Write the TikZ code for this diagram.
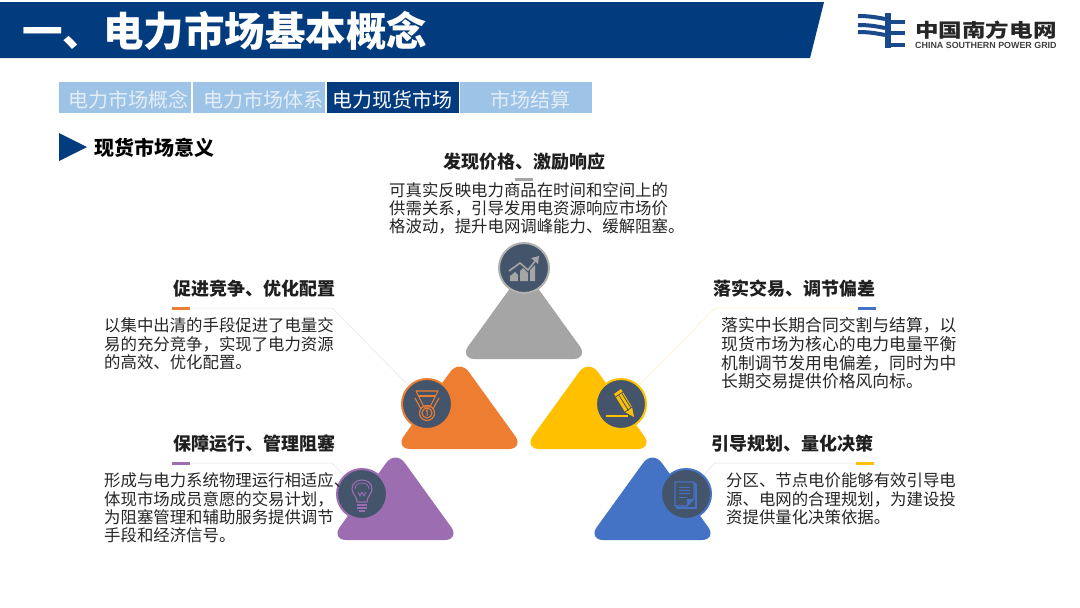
\documentclass[tikz,border=0pt]{standalone}
\usepackage{fontspec}
\usepackage{xcolor}
\setmainfont{Noto Sans CJK SC}
\newfontfamily\LogoLatinFont{Liberation Sans}
\usetikzlibrary{positioning,calc}
\definecolor{marketnavy}{HTML}{023B7E}
\definecolor{markettab}{HTML}{9DC3E6}
\definecolor{markettabtext}{HTML}{E3EEF8}
\definecolor{marketicon}{HTML}{44546A}
\definecolor{pieceGray}{HTML}{A5A5A5}
\definecolor{pieceOrange}{HTML}{ED7D31}
\definecolor{pieceYellow}{HTML}{FFC000}
\definecolor{piecePurple}{HTML}{9C6DB1}
\definecolor{pieceBlue}{HTML}{4472C4}
\definecolor{logoblue}{HTML}{1B4A8C}
\newcommand{\MarketBodyFont}{\fontsize{16.4pt}{18.4pt}\selectfont}
\newcommand{\MarketHeadFont}{\fontsize{18pt}{20pt}\selectfont\bfseries}
\newcommand{\MarketTabFont}{\fontsize{20pt}{22pt}\selectfont}
\tikzset{
  tabbox/.style={
    fill=markettab, text=markettabtext, font=\MarketTabFont,
    minimum width=132, minimum height=31, inner sep=0,
    text height=20, text depth=0
  },
  iconring/.style={
    circle, draw=#1, fill=marketicon, line width=2,
    minimum size=50, inner sep=0
  },
  accentrule/.style={
    fill=#1, minimum width=18, minimum height=3, inner sep=0
  },
  leaderline/.style={draw=#1, line width=0.5},
  headtext/.style={font=\MarketHeadFont, text=black!88, inner sep=0},
  bodytext/.style={
    font=\MarketBodyFont, text=black!85, align=left, anchor=west, inner sep=0
  },
  iconstroke/.style={draw=#1, line width=1.1, line join=round}
}
\newcommand{\MarketPiece}[3]{%
    \path[fill=#1, rounded corners=16]
        (#2,#3) -- (#2-65,#3) -- (#2,#3-90) -- (#2+65,#3) -- cycle;%
}
\newcommand{\ChartIcon}[2]{%
    \begin{scope}[shift={(#1)}]
        \fill[#2] (-14,13) -- (-14,8) -- (-9,4) -- (-6,7) -- (-6,13) -- cycle;
        \fill[#2] (-4,13) -- (-4,3) -- (-1,0) -- (4,5) -- (4,13) -- cycle;
        \fill[#2] (6,13) -- (6,2) -- (11,-3) -- (11,13) -- cycle;
        \draw[#2, line width=1.6] (-15,3) -- (-4,-5) -- (4,2) -- (12,-8);
        \fill[#2] (15,-12) -- (7,-10) -- (14,-4) -- cycle;
    \end{scope}%
}
\newcommand{\MedalIcon}[2]{%
    \begin{scope}[shift={(#1)}]
        \draw[iconstroke=#2] (-11,-13) -- (11,-13) -- (3,3) -- (-3,3) -- cycle;
        \draw[iconstroke=#2] (-8,-8) -- (8,-8);
        \draw[iconstroke=#2] (-12,-6) -- (-6,5);
        \draw[iconstroke=#2] (12,-6) -- (6,5);
        \draw[iconstroke=#2] (0,9) circle (7.5);
        \draw[iconstroke=#2] (0,9) circle (5);
        \draw[#2, line width=1] (-1.2,7) -- (0.2,6) -- (0.2,12);
    \end{scope}%
}
\newcommand{\PencilIcon}[2]{%
    \begin{scope}[shift={(#1)}]
        \fill[#2] (-7,-10) -- (0,-15) -- (11,3) -- (13,13) -- (4,8) -- cycle;
        \draw[marketicon, line width=0.8] (-5.5,-7) -- (2,-12);
        \draw[marketicon, line width=0.8] (-2,-8.5) -- (7.5,6.5);
        \draw[marketicon, line width=0.8] (1,-10.5) -- (10,4);
        \draw[marketicon, line width=0.8] (4,8) -- (11,3);
        \draw[#2, line width=1.1] (-15,12) -- (7,12);
    \end{scope}%
}
\newcommand{\BulbIcon}[2]{%
    \begin{scope}[shift={(#1)}]
        \draw[iconstroke=#2] (-5,8) .. controls (-5,2) and (-10,0) .. (-10,-5)
            .. controls (-10,-17) and (10,-17) .. (10,-5)
            .. controls (10,0) and (5,2) .. (5,8) -- cycle;
        \draw[iconstroke=#2, line width=0.8] (-7,-5) .. controls (-7,-13) and (7,-13) .. (7,-5);
        \draw[iconstroke=#2] (-4,-2) -- (-2,2) -- (0,-2) -- (2,2) -- (4,-2);
        \draw[iconstroke=#2, line width=1.4] (-5,11) -- (5,11);
        \draw[iconstroke=#2, line width=1.4] (-5,14) -- (5,14);
        \draw[iconstroke=#2, line width=1.4] (-3,17) -- (3,17);
    \end{scope}%
}
\newcommand{\DocIcon}[2]{%
    \begin{scope}[shift={(#1)}]
        \draw[iconstroke=#2] (8,-10) -- (10,-10) -- (10,14) -- (-9,14) -- (-9,12);
        \draw[iconstroke=#2] (-11,-12) -- (8,-12) -- (8,5) -- (1,12) -- (-11,12) -- cycle;
        \fill[#2] (8,5) -- (1,12) -- (1,5) -- cycle;
        \foreach \liney/\lineend in {-7/4,-4/4,-1/4,3/1}
            \draw[#2, line width=1] (-7,\liney) -- (\lineend,\liney);
    \end{scope}%
}
\newcommand{\LogoMark}{%
    \fill[logoblue] (885,13) rectangle (891,48);
    \foreach \bary in {22,33,45}
        \fill[logoblue] (891,\bary-2.2) rectangle (905,\bary+2.2);
    \foreach \bary in {16,25,32}
        \draw[logoblue, line width=4] (858,\bary) .. controls (868,\bary) and (875,\bary+1) .. (885,\bary+3);%
}

\begin{document}
\begin{tikzpicture}[x=1pt, y=-1pt]
    \useasboundingbox (0,0) rectangle (1080,608);
    \fill[white] (0,0) rectangle (1080,608);
    \fill[marketnavy] (0,2) -- (824,2) -- (810,58) -- (0,58) -- cycle;
    \node[text=white, anchor=west, inner sep=0, font=\fontsize{40.5pt}{42pt}\selectfont\bfseries]
        (mainTitle) at (22,31) {一、电力市场基本概念};
    \LogoMark
    \node[anchor=west, inner sep=0, text=black!85, xscale=1.24, transform shape,
        font=\fontsize{19pt}{21pt}\selectfont\bfseries]
        (logoName) at (915,30) {中国南方电网};
    \node[anchor=west, inner sep=0, text=black!75, font=\LogoLatinFont\fontsize{8.9pt}{10pt}\selectfont\bfseries]
        (logoLatin) at (915,45.5) {CHINA SOUTHERN POWER GRID};

    \node[tabbox] (tabConcept) at (125,97.5) {\hspace*{7pt}电力市场概念};
    \node[tabbox] (tabSystem) at (259,97.5) {\hspace*{8pt}电力市场体系};
    \node[tabbox, fill=marketnavy, text=white] (tabSpot) at (392.5,97.5) {电力现货市场};
    \node[tabbox] (tabSettle) at (526,97.5) {\hspace*{8pt}市场结算};

    \fill[marketnavy] (59,133) -- (87,147) -- (59,161) -- cycle;
    \node[anchor=west, inner sep=0, text=black, font=\fontsize{20pt}{22pt}\selectfont\bfseries]
        (sectionTitle) at (94,148) {现货市场意义};

    \MarketPiece{pieceGray}{524}{359}
    \MarketPiece{pieceOrange}{459.5}{449}
    \MarketPiece{pieceYellow}{588.5}{449}
    \MarketPiece{piecePurple}{395.5}{540}
    \MarketPiece{pieceBlue}{652.5}{540}

    \node[accentrule=pieceGray] (grayRule) at (524,179) {};
    \node[accentrule=pieceOrange] (orangeRule) at (181,308) {};
    \node[accentrule=pieceBlue] (yellowRule) at (867,308) {};
    \node[accentrule=piecePurple] (purpleRule) at (181,463) {};
    \node[accentrule=pieceYellow] (blueRule) at (865,463) {};

    \coordinate (orangeBend) at (332,308);
    \coordinate (yellowBend) at (715,308);
    \coordinate (purpleBend) at (332,463);
    \coordinate (blueBend) at (715,463);

    \node[iconring=pieceGray!85] (grayIcon) at (524,268) {};
    \node[iconring=pieceOrange] (orangeIcon) at (427,404) {};
    \node[iconring=pieceYellow] (yellowIcon) at (621,404) {};
    \node[iconring=piecePurple] (purpleIcon) at (362,494) {};
    \node[iconring=pieceBlue] (blueIcon) at (686,494) {};

    \draw[leaderline=black!10] (orangeRule.east) -- (orangeBend) -- (orangeIcon);
    \draw[leaderline=pieceYellow!25] (yellowRule.west) -- (yellowBend) -- (yellowIcon);
    \draw[leaderline=black!10] (purpleRule.east) -- (purpleBend) -- (purpleIcon);
    \draw[leaderline=black!12] (blueRule.west) -- (blueBend) -- (blueIcon);

    \ChartIcon{grayIcon.center}{pieceGray}
    \MedalIcon{orangeIcon.center}{pieceOrange}
    \PencilIcon{yellowIcon.center}{pieceYellow}
    \BulbIcon{purpleIcon.center}{piecePurple}
    \DocIcon{blueIcon.center}{pieceBlue}

    \node[headtext] (grayHead) at (524,162) {发现价格、激励响应};
    \node[headtext] (orangeHead) at (254,289) {促进竞争、优化配置};
    \node[headtext] (yellowHead) at (794,289) {落实交易、调节偏差};
    \node[headtext] (purpleHead) at (254,444) {保障运行、管理阻塞};
    \node[headtext] (blueHead) at (792,444) {引导规划、量化决策};

    \node[bodytext] (grayBody) at (389,208.5)
        {可真实反映电力商品在时间和空间上的\\供需关系，引导发用电资源响应市场价\\格波动，提升电网调峰能力、缓解阻塞。};
    \node[bodytext] (orangeBody) at (104,344)
        {以集中出清的手段促进了电量交\\易的充分竞争，实现了电力资源\\的高效、优化配置。};
    \node[bodytext, font=\fontsize{16.8pt}{18.6pt}\selectfont] (yellowBody) at (721,353.5)
        {落实中长期合同交割与结算，以\\现货市场为核心的电力电量平衡\\机制调节发用电偏差，同时为中\\长期交易提供价格风向标。};
    \node[bodytext] (purpleBody) at (104,508)
        {形成与电力系统物理运行相适应、\\体现市场成员意愿的交易计划，\\为阻塞管理和辅助服务提供调节\\手段和经济信号。};
    \node[bodytext] (blueBody) at (726,499)
        {分区、节点电价能够有效引导电\\源、电网的合理规划，为建设投\\资提供量化决策依据。};
\end{tikzpicture}
\end{document}
